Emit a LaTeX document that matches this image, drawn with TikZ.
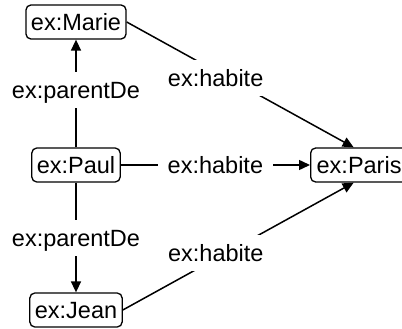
\documentclass[tikz,border=0pt]{standalone}
\usepackage{fontspec}
\setmainfont{Liberation Sans}
\usetikzlibrary{arrows.meta}
\begin{document}
\begin{tikzpicture}[x=1pt,y=-1pt,
  res/.style={draw, line width=1.3pt, rounded corners=5pt, inner xsep=5pt, inner ysep=0pt,
    minimum height=34pt, text height=17pt, text depth=0pt, font=\fontsize{23.5}{28}\selectfont},
  lbl/.style={fill=white, inner xsep=10pt, inner ysep=9.5pt, text height=17pt, text depth=0pt,
    font=\fontsize{23.5}{28}\selectfont},
  conn/.style={line width=1.5pt},
  arr/.style={conn, -{Triangle[length=11pt,width=10pt]}}]
\clip (0,0) rectangle (402,329);
\useasboundingbox (0,0) rectangle (402,329);
\node[res] (marie) at (76,22) {ex:Marie};
\node[res] (paul) at (76,165) {ex:Paul};
\node[res] (jean) at (76,310) {ex:Jean};
\node[res, anchor=west, inner xsep=6pt, text width=90pt, align=left] (paris) at (310,165) {ex:Paris};
\draw[arr] (paul) -- node[lbl,pos=0.532]{ex:parentDe} (marie);
\draw[arr] (paul) -- node[lbl]{ex:parentDe} (jean);
\draw[arr] (marie.east) -- node[lbl,pos=0.392,yshift=-7pt]{ex:habite} ([xshift=-8pt]paris.north);
\draw[arr] (paul) -- node[lbl]{ex:habite} (paris);
\draw[arr] (jean.east) -- node[lbl,pos=0.403,yshift=6pt]{ex:habite} ([xshift=-8pt]paris.south);
\end{tikzpicture}
\end{document}
